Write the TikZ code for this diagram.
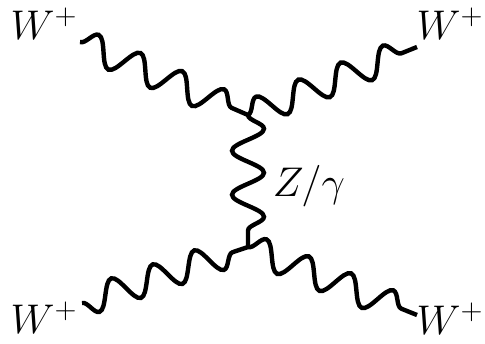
\documentclass[tikz,border=0pt]{standalone}
\usetikzlibrary{decorations.pathmorphing}

\begin{document}
\begin{tikzpicture}[
    x=0.5pt, y=-0.5pt,
    boson/.style={decorate, decoration={snake, amplitude=7pt, segment length=#1}, line width=2.2pt},
    boson/.default=22.8pt,
    prop/.style={decorate, decoration={snake, amplitude=8pt, segment length=22pt}, line width=2.2pt},
    lbl/.style={inner sep=0pt, font=\fontsize{22}{26}\selectfont}
]
\useasboundingbox (0,0) rectangle (485,343);

% vertices and external ends
\coordinate (v1) at (248,115);
\coordinate (v2) at (248,247);
\coordinate (e1) at (80,42);
\coordinate (e2) at (417,47);
\coordinate (e3) at (82,303);
\coordinate (e4) at (417,315);

% labels
\node[lbl] (w1) at (44,24) {$W^+$};
\node[lbl] (w2) at (450,24) {$W^+$};
\node[lbl] (w3) at (44,318) {$W^+$};
\node[lbl] (w4) at (450,319) {$W^+$};
\node[lbl] (zg) at (309,186) {$Z/\gamma$};

\draw[boson] (e1) -- (v1);
\draw[boson] (v1) -- (e2);
\draw[boson=21.9pt, decoration={amplitude=-7pt}] (e3) -- (v2);
\draw[boson] (v2) -- (e4);
\draw[prop] (v1) -- (v2);
\end{tikzpicture}
\end{document}
